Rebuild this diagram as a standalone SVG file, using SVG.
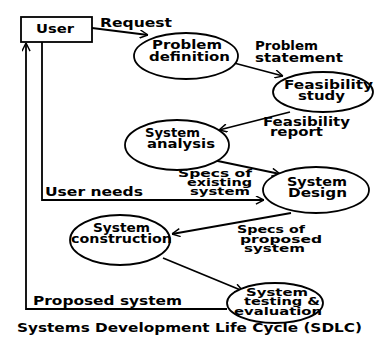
<svg xmlns="http://www.w3.org/2000/svg" width="376" height="343" viewBox="0 0 376 343">
<style>
text{font-family:"DejaVu Sans","Liberation Sans",Arial,sans-serif;font-weight:bold;font-size:11.5px;fill:#000}
.s{font-size:10.5px}
.shape{fill:#fff;stroke:#000;stroke-width:1.8}
.c{fill:none;stroke:#000;stroke-width:1.8}
.t{font-weight:600;font-size:13px}
</style>
<defs>
<marker id="a" viewBox="0 0 10 10" refX="10" refY="5" markerWidth="9" markerHeight="9" markerUnits="userSpaceOnUse" orient="auto">
<path d="M1,0.5 L10,5 L1,9.5" fill="none" stroke="#000" stroke-width="1.6"/>
</marker>
</defs>
<rect width="376" height="343" fill="#fff"/>
<g id="connectors">
<path class="c" d="M92,28 L148,35" marker-end="url(#a)"/>
<path class="c" d="M234,63 L283,76" marker-end="url(#a)"/>
<path class="c" d="M290,112 L219,130" marker-end="url(#a)"/>
<path class="c" d="M213,160 L280,174" marker-end="url(#a)"/>
<path class="c" d="M42,42 L42,200 L264,200" marker-end="url(#a)"/>
<path class="c" d="M291,213 L172,234" marker-end="url(#a)"/>
<path class="c" d="M163,258 L243,291" marker-end="url(#a)"/>
<path class="c" d="M227,309 L26,309 L26,43" marker-end="url(#a)"/>
<text x="100" y="27" textLength="72" lengthAdjust="spacingAndGlyphs">Request</text>
<text x="255" y="50" textLength="63" lengthAdjust="spacingAndGlyphs">Problem</text>
<text x="255" y="62" textLength="88" lengthAdjust="spacingAndGlyphs">statement</text>
<text x="263" y="126" textLength="87" lengthAdjust="spacingAndGlyphs">Feasibility</text>
<text x="270" y="136" textLength="53" lengthAdjust="spacingAndGlyphs">report</text>
<text class="s" x="178" y="177" textLength="74" lengthAdjust="spacingAndGlyphs">Specs of</text>
<text class="s" x="187" y="186" textLength="65" lengthAdjust="spacingAndGlyphs">existing</text>
<text class="s" x="190" y="195" textLength="60" lengthAdjust="spacingAndGlyphs">system</text>
<text x="45" y="196" textLength="98" lengthAdjust="spacingAndGlyphs">User needs</text>
<text class="s" x="237" y="233" textLength="68" lengthAdjust="spacingAndGlyphs">Specs of</text>
<text class="s" x="240" y="243" textLength="82" lengthAdjust="spacingAndGlyphs">proposed</text>
<text class="s" x="244" y="252" textLength="61" lengthAdjust="spacingAndGlyphs">system</text>
<text x="33" y="305" textLength="149" lengthAdjust="spacingAndGlyphs">Proposed system</text>
</g>
<g id="user">
<rect class="shape" x="21" y="17" width="71" height="25"/>
<text x="36" y="33" textLength="38" lengthAdjust="spacingAndGlyphs">User</text>
</g>
<g id="problem-definition">
<ellipse class="shape" cx="186" cy="56" rx="52" ry="23"/>
<text x="152" y="49" textLength="70" lengthAdjust="spacingAndGlyphs">Problem</text>
<text x="149" y="61" textLength="81" lengthAdjust="spacingAndGlyphs">definition</text>
</g>
<g id="feasibility-study">
<ellipse class="shape" cx="323" cy="92" rx="50" ry="20"/>
<text x="284" y="89" textLength="89" lengthAdjust="spacingAndGlyphs">Feasibility</text>
<text x="298" y="100" textLength="47" lengthAdjust="spacingAndGlyphs">study</text>
</g>
<g id="system-analysis">
<ellipse class="shape" cx="177" cy="145" rx="52" ry="25"/>
<text x="145" y="137" textLength="55" lengthAdjust="spacingAndGlyphs">System</text>
<text x="147" y="148" textLength="68" lengthAdjust="spacingAndGlyphs">analysis</text>
</g>
<g id="system-design">
<ellipse class="shape" cx="316" cy="190" rx="53" ry="23"/>
<text x="287" y="186" textLength="60" lengthAdjust="spacingAndGlyphs">System</text>
<text x="288" y="197" textLength="59" lengthAdjust="spacingAndGlyphs">Design</text>
</g>
<g id="system-construction">
<ellipse class="shape" cx="120" cy="240" rx="50" ry="25"/>
<text x="93" y="232" textLength="57" lengthAdjust="spacingAndGlyphs">System</text>
<text x="71" y="243" textLength="101" lengthAdjust="spacingAndGlyphs">construction</text>
</g>
<g id="system-testing">
<ellipse class="shape" cx="275" cy="303" rx="48" ry="20"/>
<text class="s" x="246" y="296" textLength="62" lengthAdjust="spacingAndGlyphs">System</text>
<text class="s" x="244" y="305" textLength="76" lengthAdjust="spacingAndGlyphs">testing &amp;</text>
<text class="s" x="234" y="315" textLength="88" lengthAdjust="spacingAndGlyphs">evaluation</text>
</g>
<text class="t" x="17" y="332" textLength="345" lengthAdjust="spacingAndGlyphs">Systems Development Life Cycle (SDLC)</text>
</svg>
